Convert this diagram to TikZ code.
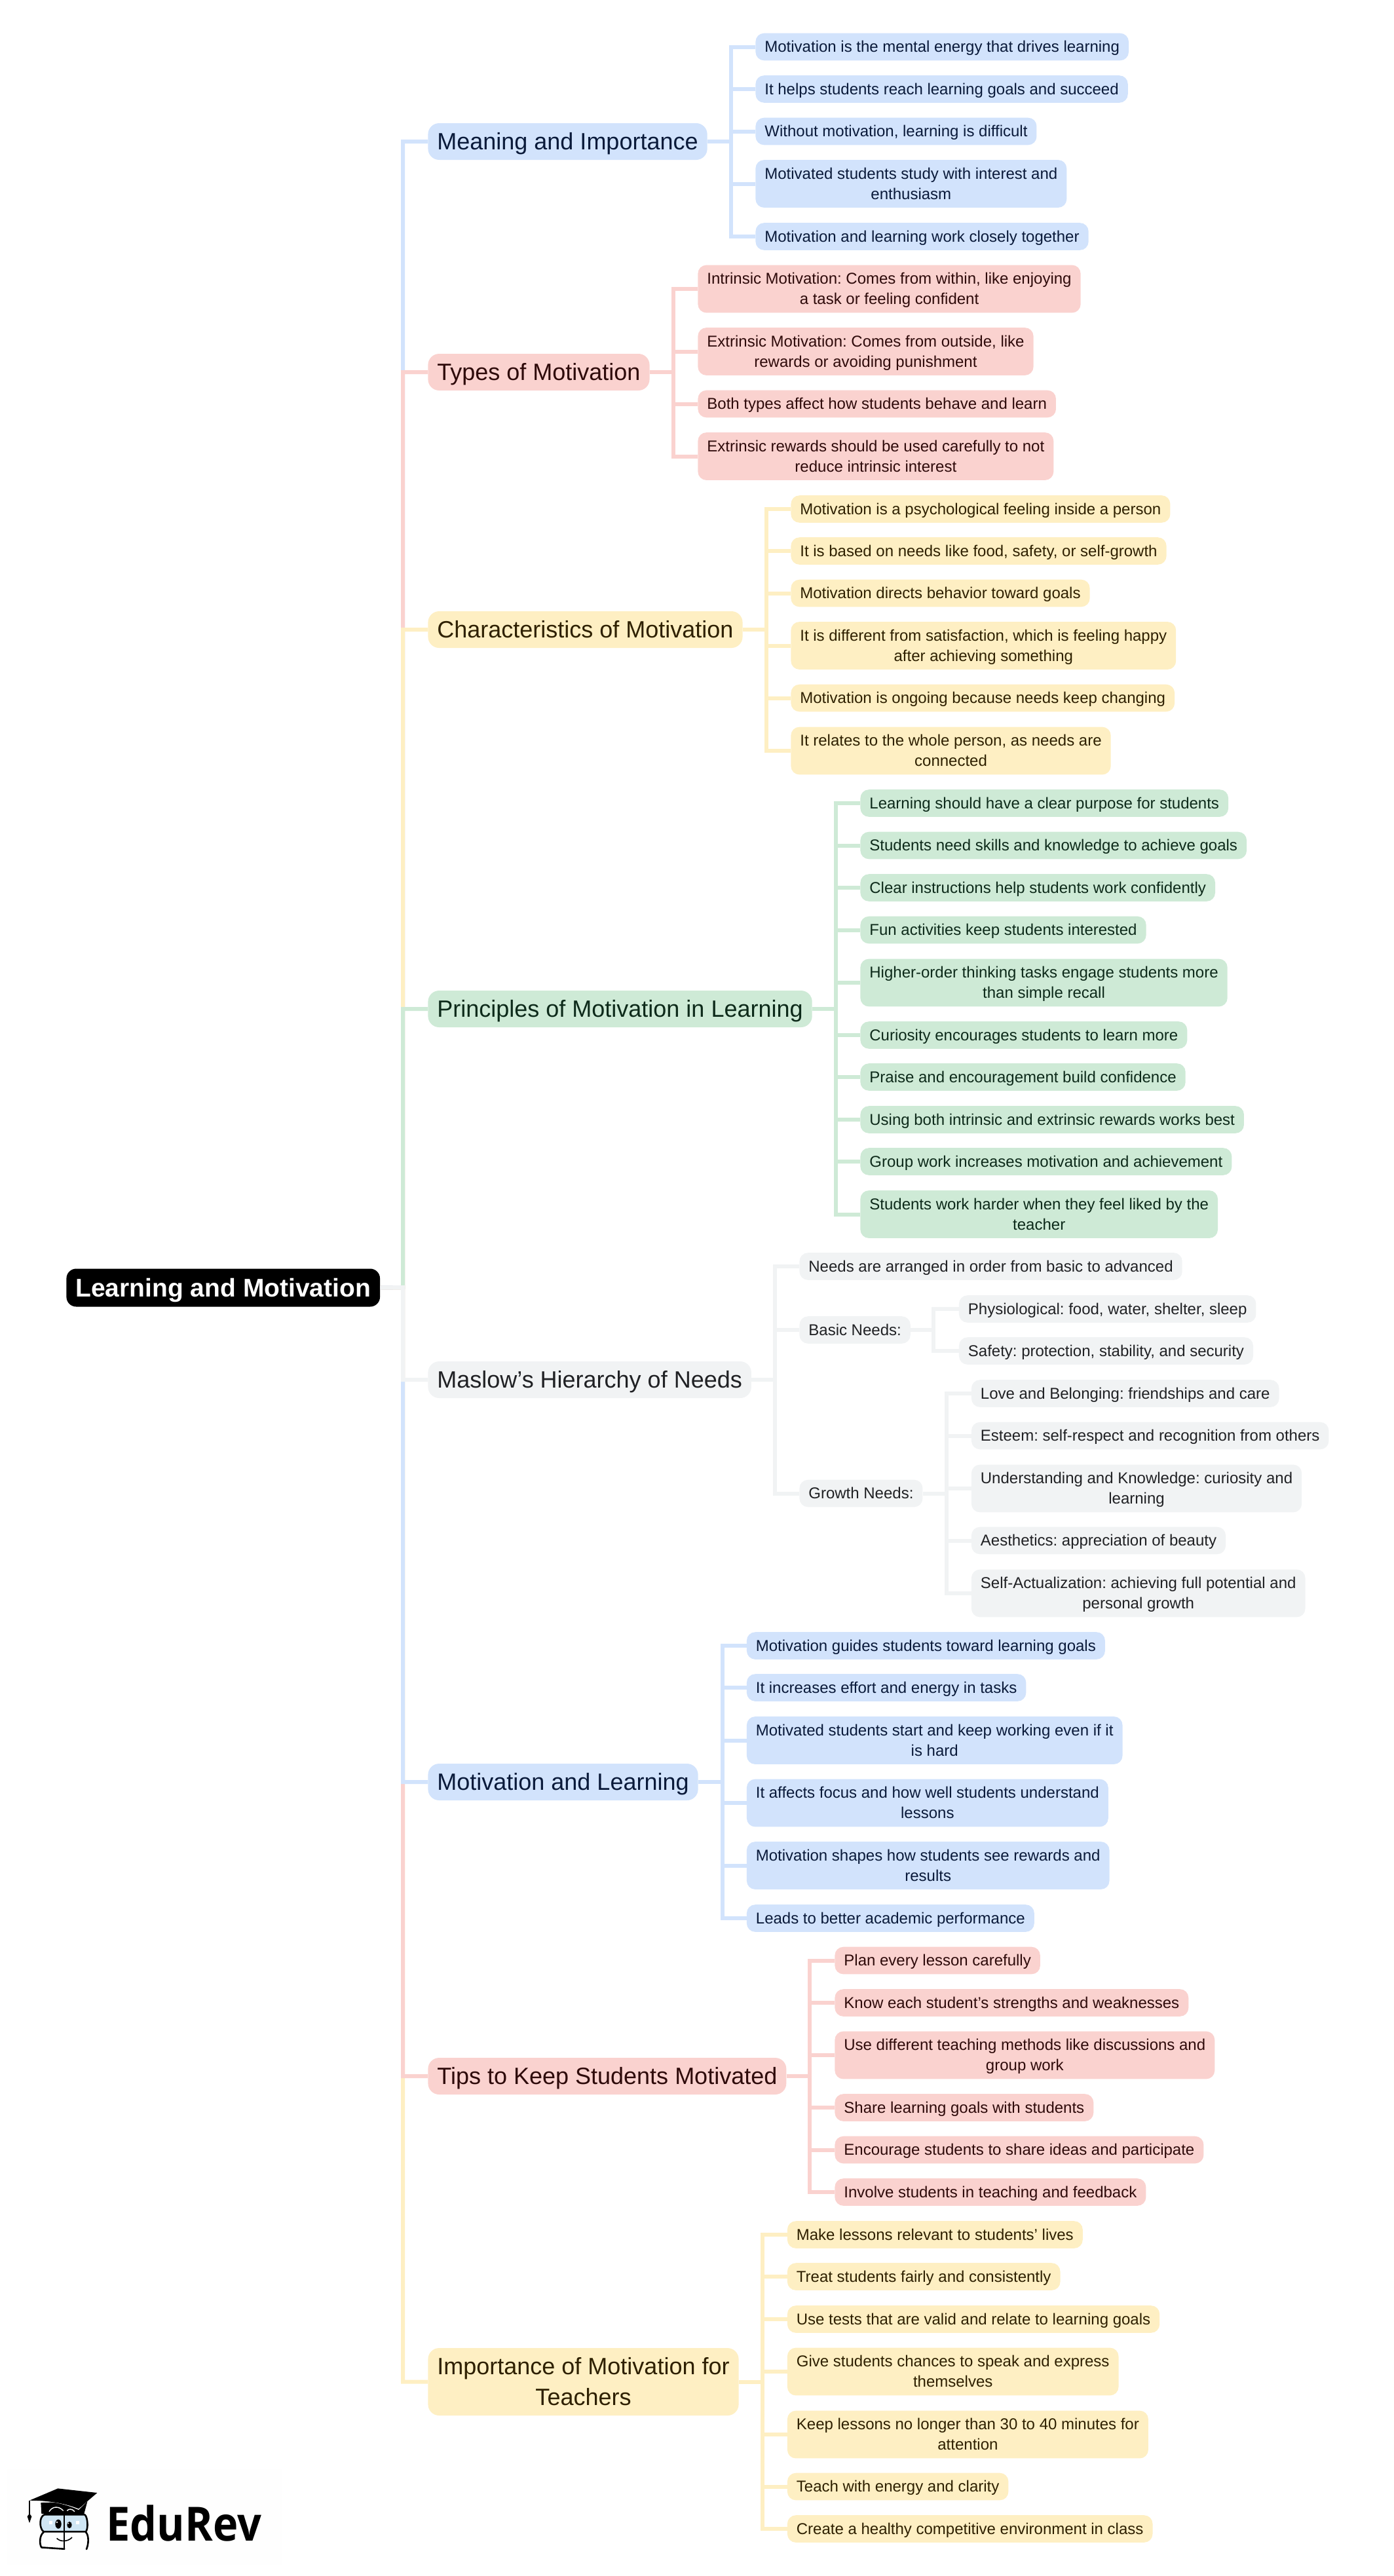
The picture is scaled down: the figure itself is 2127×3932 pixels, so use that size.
\documentclass[tikz,border=0pt]{standalone}
\usepackage{fontspec}
\setmainfont{Liberation Sans}
\newfontfamily\logofont[FakeStretch=0.9]{Open Sans}
\definecolor{blue fill}{HTML}{D2E3FC}
\definecolor{pink fill}{HTML}{FAD2CF}
\definecolor{yellow fill}{HTML}{FEEFC3}
\definecolor{green fill}{HTML}{CEEAD6}
\definecolor{grey fill}{HTML}{F1F3F4}
\definecolor{blue ink}{HTML}{0A1A3A}
\definecolor{pink ink}{HTML}{2E0A0A}
\definecolor{yellow ink}{HTML}{2E2000}
\definecolor{green ink}{HTML}{0D2A1A}
\definecolor{grey ink}{HTML}{202124}
\definecolor{lens}{HTML}{CFE6F4}
\definecolor{logo paper}{HTML}{FEFEFE}
\tikzstyle{leaf}=[anchor=west, inner xsep=7pt, inner ysep=0pt, rounded corners=6.5pt, align=center, text height=14.6pt, text depth=6.2pt, font=\fontsize{12}{15.5}\selectfont]
\tikzstyle{double leaf}=[leaf, text height=30pt, text depth=6.4pt]
\tikzstyle{topic}=[anchor=west, inner xsep=7pt, inner ysep=0pt, rounded corners=8.5pt, align=center, text height=20.3pt, text depth=7.7pt, font=\fontsize{18}{23.5}\selectfont]
\tikzstyle{double topic}=[topic, text height=43.8pt]
\tikzstyle{centre}=[anchor=west, fill=black, text=white, inner xsep=7pt, inner ysep=0pt, rounded corners=7.5pt, text height=21.3pt, text depth=7.7pt, font=\fontsize{19.5}{24}\selectfont\bfseries]
\tikzstyle{blue}=[fill=blue fill, text=blue ink]
\tikzstyle{pink}=[fill=pink fill, text=pink ink]
\tikzstyle{yellow}=[fill=yellow fill, text=yellow ink]
\tikzstyle{green}=[fill=green fill, text=green ink]
\tikzstyle{grey}=[fill=grey fill, text=grey ink]
\tikzstyle{link}=[line width=3pt, miter limit=10]
\tikzstyle{blue link}=[link, draw=blue fill]
\tikzstyle{pink link}=[link, draw=pink fill]
\tikzstyle{yellow link}=[link, draw=yellow fill]
\tikzstyle{green link}=[link, draw=green fill]
\tikzstyle{grey link}=[link, draw=grey fill]
\tikzstyle{logo line}=[line width=1.3pt, line cap=round, line join=round]
\begin{document}
\frenchspacing
\begin{tikzpicture}[x=0.5pt, y=-0.5pt]
      \useasboundingbox (0, 0) rectangle (2127, 3932);
      \coordinate (trunk) at (615, 1965);
      \coordinate (meaning bus) at (1116, 216);
      \coordinate (types bus) at (1028, 568);
      \coordinate (traits bus) at (1170, 961);
      \coordinate (rules bus) at (1275.5, 1540);
      \coordinate (maslow bus) at (1183, 2106);
      \coordinate (basic bus) at (1425, 2030);
      \coordinate (growth bus) at (1445, 2279.5);
      \coordinate (learning bus) at (1102.5, 2720);
      \coordinate (tips bus) at (1236, 3169);
      \coordinate (teachers bus) at (1164, 3635.5);
      \node[centre] (root) at (101, 1965.5) {Learning and Motivation};
      \node[topic, blue] (meaning) at (653, 216) {Meaning and Importance};
      \node[topic, pink] (types) at (653, 568) {Types of Motivation};
      \node[topic, yellow] (traits) at (653, 961) {Characteristics of Motivation};
      \node[topic, green] (rules) at (653, 1540) {Principles of Motivation in Learning};
      \node[topic, grey] (maslow) at (653, 2106) {Maslow’s Hierarchy of Needs};
      \node[topic, blue] (learning) at (653, 2720) {Motivation and Learning};
      \node[topic, pink] (tips) at (653, 3169) {Tips to Keep Students Motivated};
      \node[double topic, yellow] (teachers) at (653, 3635.5) {Importance of Motivation for\\Teachers};

      \node[leaf, blue] (meaning 1) at (1153, 71.5) {Motivation is the mental energy that drives learning};
      \node[leaf, blue] (meaning 2) at (1153, 136) {It helps students reach learning goals and succeed};
      \node[leaf, blue] (meaning 3) at (1153, 200.5) {Without motivation, learning is difficult};
      \node[double leaf, blue] (meaning 4) at (1153, 280.5) {Motivated students study with interest and\\enthusiasm};
      \node[leaf, blue] (meaning 5) at (1153, 361) {Motivation and learning work closely together};

      \node[double leaf, pink] (types 1) at (1065, 441) {Intrinsic Motivation: Comes from within, like enjoying\\a task or feeling confident};
      \node[double leaf, pink] (types 2) at (1065, 536.5) {Extrinsic Motivation: Comes from outside, like\\rewards or avoiding punishment};
      \node[leaf, pink] (types 3) at (1065, 616.5) {Both types affect how students behave and learn};
      \node[double leaf, pink] (types 4) at (1065, 696.5) {Extrinsic rewards should be used carefully to not\\reduce intrinsic interest};

      \node[leaf, yellow] (traits 1) at (1207, 777) {Motivation is a psychological feeling inside a person};
      \node[leaf, yellow] (traits 2) at (1207, 841) {It is based on needs like food, safety, or self-growth};
      \node[leaf, yellow] (traits 3) at (1207, 905.5) {Motivation directs behavior toward goals};
      \node[double leaf, yellow] (traits 4) at (1207, 985.5) {It is different from satisfaction, which is feeling happy\\after achieving something};
      \node[leaf, yellow] (traits 5) at (1207, 1065.5) {Motivation is ongoing because needs keep changing};
      \node[double leaf, yellow] (traits 6) at (1207, 1146) {It relates to the whole person, as needs are\\connected};

      \node[leaf, green] (rules 1) at (1313, 1226) {Learning should have a clear purpose for students};
      \node[leaf, green] (rules 2) at (1313, 1290.5) {Students need skills and knowledge to achieve goals};
      \node[leaf, green] (rules 3) at (1313, 1355) {Clear instructions help students work confidently};
      \node[leaf, green] (rules 4) at (1313, 1419.5) {Fun activities keep students interested};
      \node[double leaf, green] (rules 5) at (1313, 1500) {Higher-order thinking tasks engage students more\\than simple recall};
      \node[leaf, green] (rules 6) at (1313, 1580) {Curiosity encourages students to learn more};
      \node[leaf, green] (rules 7) at (1313, 1644) {Praise and encouragement build confidence};
      \node[leaf, green] (rules 8) at (1313, 1709) {Using both intrinsic and extrinsic rewards works best};
      \node[leaf, green] (rules 9) at (1313, 1773) {Group work increases motivation and achievement};
      \node[double leaf, green] (rules 10) at (1313, 1853.5) {Students work harder when they feel liked by the\\teacher};

      \node[leaf, grey] (needs) at (1220, 1933) {Needs are arranged in order from basic to advanced};
      \node[leaf, grey] (basic) at (1220, 2030) {Basic Needs:};
      \node[leaf, grey] (growth) at (1220, 2279.5) {Growth Needs:};
      \node[leaf, grey] (basic 1) at (1463.5, 1998) {Physiological: food, water, shelter, sleep};
      \node[leaf, grey] (basic 2) at (1463.5, 2062) {Safety: protection, stability, and security};
      \node[leaf, grey] (growth 1) at (1482.5, 2127) {Love and Belonging: friendships and care};
      \node[leaf, grey] (growth 2) at (1482.5, 2191.5) {Esteem: self-respect and recognition from others};
      \node[double leaf, grey] (growth 3) at (1482.5, 2272) {Understanding and Knowledge: curiosity and\\learning};
      \node[leaf, grey] (growth 4) at (1482.5, 2351.5) {Aesthetics: appreciation of beauty};
      \node[double leaf, grey] (growth 5) at (1482.5, 2432) {Self-Actualization: achieving full potential and\\personal growth};

      \node[leaf, blue] (learning 1) at (1139.5, 2512) {Motivation guides students toward learning goals};
      \node[leaf, blue] (learning 2) at (1139.5, 2576) {It increases effort and energy in tasks};
      \node[double leaf, blue] (learning 3) at (1139.5, 2656.5) {Motivated students start and keep working even if it\\is hard};
      \node[double leaf, blue] (learning 4) at (1139.5, 2752) {It affects focus and how well students understand\\lessons};
      \node[double leaf, blue] (learning 5) at (1139.5, 2847.5) {Motivation shapes how students see rewards and\\results};
      \node[leaf, blue] (learning 6) at (1139.5, 2928) {Leads to better academic performance};

      \node[leaf, pink] (tips 1) at (1274, 2992.5) {Plan every lesson carefully};
      \node[leaf, pink] (tips 2) at (1274, 3057) {Know each student’s strengths and weaknesses};
      \node[double leaf, pink] (tips 3) at (1274, 3137) {Use different teaching methods like discussions and\\group work};
      \node[leaf, pink] (tips 4) at (1274, 3217) {Share learning goals with students};
      \node[leaf, pink] (tips 5) at (1274, 3281.5) {Encourage students to share ideas and participate};
      \node[leaf, pink] (tips 6) at (1274, 3346) {Involve students in teaching and feedback};

      \node[leaf, yellow] (teachers 1) at (1201.5, 3411) {Make lessons relevant to students’ lives};
      \node[leaf, yellow] (teachers 2) at (1201.5, 3475) {Treat students fairly and consistently};
      \node[leaf, yellow] (teachers 3) at (1201.5, 3540) {Use tests that are valid and relate to learning goals};
      \node[double leaf, yellow] (teachers 4) at (1201.5, 3620) {Give students chances to speak and express\\themselves};
      \node[double leaf, yellow] (teachers 5) at (1201.5, 3716) {Keep lessons no longer than 30 to 40 minutes for\\attention};
      \node[leaf, yellow] (teachers 6) at (1201.5, 3795.5) {Teach with energy and clarity};
      \node[leaf, yellow] (teachers 7) at (1201.5, 3860) {Create a healthy competitive environment in class};

      \draw[blue link] (root.east) to (trunk) |- (meaning.west);
      \draw[pink link] (root.east) to (trunk) |- (types.west);
      \draw[yellow link] (root.east) to (trunk) |- (traits.west);
      \draw[green link] (root.east) to (trunk) |- (rules.west);
      \draw[yellow link] (root.east) to (trunk) |- (teachers.west);
      \draw[pink link] (root.east) to (trunk) |- (tips.west);
      \draw[blue link] (root.east) to (trunk) |- (learning.west);
      \draw[grey link] (root.east) to (trunk) |- (maslow.west);

      \draw[blue link] (meaning.east) to (meaning bus) |- (meaning 1.west);
      \draw[blue link] (meaning.east) to (meaning bus) |- (meaning 2.west);
      \draw[blue link] (meaning.east) to (meaning bus) |- (meaning 3.west);
      \draw[blue link] (meaning.east) to (meaning bus) |- (meaning 4.west);
      \draw[blue link] (meaning.east) to (meaning bus) |- (meaning 5.west);

      \draw[pink link] (types.east) to (types bus) |- (types 1.west);
      \draw[pink link] (types.east) to (types bus) |- (types 2.west);
      \draw[pink link] (types.east) to (types bus) |- (types 3.west);
      \draw[pink link] (types.east) to (types bus) |- (types 4.west);

      \draw[yellow link] (traits.east) to (traits bus) |- (traits 1.west);
      \draw[yellow link] (traits.east) to (traits bus) |- (traits 2.west);
      \draw[yellow link] (traits.east) to (traits bus) |- (traits 3.west);
      \draw[yellow link] (traits.east) to (traits bus) |- (traits 4.west);
      \draw[yellow link] (traits.east) to (traits bus) |- (traits 5.west);
      \draw[yellow link] (traits.east) to (traits bus) |- (traits 6.west);

      \draw[green link] (rules.east) to (rules bus) |- (rules 1.west);
      \draw[green link] (rules.east) to (rules bus) |- (rules 2.west);
      \draw[green link] (rules.east) to (rules bus) |- (rules 3.west);
      \draw[green link] (rules.east) to (rules bus) |- (rules 4.west);
      \draw[green link] (rules.east) to (rules bus) |- (rules 5.west);
      \draw[green link] (rules.east) to (rules bus) |- (rules 6.west);
      \draw[green link] (rules.east) to (rules bus) |- (rules 7.west);
      \draw[green link] (rules.east) to (rules bus) |- (rules 8.west);
      \draw[green link] (rules.east) to (rules bus) |- (rules 9.west);
      \draw[green link] (rules.east) to (rules bus) |- (rules 10.west);

      \draw[grey link] (maslow.east) to (maslow bus) |- (needs.west);
      \draw[grey link] (maslow.east) to (maslow bus) |- (basic.west);
      \draw[grey link] (maslow.east) to (maslow bus) |- (growth.west);
      \draw[grey link] (basic.east) to (basic bus) |- (basic 1.west);
      \draw[grey link] (basic.east) to (basic bus) |- (basic 2.west);
      \draw[grey link] (growth.east) to (growth bus) |- (growth 1.west);
      \draw[grey link] (growth.east) to (growth bus) |- (growth 2.west);
      \draw[grey link] (growth.east) to (growth bus) |- (growth 3.west);
      \draw[grey link] (growth.east) to (growth bus) |- (growth 4.west);
      \draw[grey link] (growth.east) to (growth bus) |- (growth 5.west);

      \draw[blue link] (learning.east) to (learning bus) |- (learning 1.west);
      \draw[blue link] (learning.east) to (learning bus) |- (learning 2.west);
      \draw[blue link] (learning.east) to (learning bus) |- (learning 3.west);
      \draw[blue link] (learning.east) to (learning bus) |- (learning 4.west);
      \draw[blue link] (learning.east) to (learning bus) |- (learning 5.west);
      \draw[blue link] (learning.east) to (learning bus) |- (learning 6.west);

      \draw[pink link] (tips.east) to (tips bus) |- (tips 1.west);
      \draw[pink link] (tips.east) to (tips bus) |- (tips 2.west);
      \draw[pink link] (tips.east) to (tips bus) |- (tips 3.west);
      \draw[pink link] (tips.east) to (tips bus) |- (tips 4.west);
      \draw[pink link] (tips.east) to (tips bus) |- (tips 5.west);
      \draw[pink link] (tips.east) to (tips bus) |- (tips 6.west);

      \draw[yellow link] (teachers.east) to (teachers bus) |- (teachers 1.west);
      \draw[yellow link] (teachers.east) to (teachers bus) |- (teachers 2.west);
      \draw[yellow link] (teachers.east) to (teachers bus) |- (teachers 3.west);
      \draw[yellow link] (teachers.east) to (teachers bus) |- (teachers 4.west);
      \draw[yellow link] (teachers.east) to (teachers bus) |- (teachers 5.west);
      \draw[yellow link] (teachers.east) to (teachers bus) |- (teachers 6.west);
      \draw[yellow link] (teachers.east) to (teachers bus) |- (teachers 7.west);

      % logo
      \fill[logo paper] (10, 3768) rectangle (431, 3915);
      \node[anchor=base west, inner sep=0pt, font=\fontsize{36}{36}\logofont\bfseries] (brand) at (162, 3878) {EduRev};
      \begin{scope}[shift={(30, 3785)}, x=0.1667pt, y=-0.1667pt]
        \fill (97, 105) -- (100, 156) -- (295, 156) -- (310, 100) -- cycle;
        \draw[white, line width=0.7pt] (135, 146) .. controls (150, 120) and (180, 120) .. (200, 142);
        \draw[white, line width=0.7pt] (217, 142) .. controls (225, 132) and (240, 132) .. (252, 146);
        \fill[white] (97, 98) .. controls (160, 100) and (220, 115) .. (270, 138) -- (318, 90) -- (280, 125) .. controls (220, 100) and (160, 90) .. (97, 90) -- cycle;
        \fill (45, 95) -- (175, 40) -- (355, 60) -- (270, 133) .. controls (200, 105) and (120, 95) .. (45, 95) -- cycle;
        \draw[line width=0.6pt] (45, 95) -- (45, 160);
        \fill (35, 168) -- (45, 155) -- (55, 168) -- (45, 198) -- cycle;
        \draw[logo line, fill=lens] (113, 160) -- (298, 160) .. controls (312, 170) and (315, 225) .. (303, 238) -- (110, 238) .. controls (90, 225) and (88, 170) .. (113, 160) -- cycle;
        \draw[logo line] (110, 240) .. controls (90, 255) and (90, 295) .. (100, 310) -- (205, 317);
        \draw[logo line] (303, 240) .. controls (318, 255) and (316, 295) .. (306, 318);
        \draw[line width=1pt] (205, 155) -- (205, 322);
        \fill (177, 203) ellipse [x radius=14, y radius=21];
        \fill (228, 207) ellipse [x radius=11, y radius=15];
        \fill[white] (171, 195) circle [radius=4];
        \fill[white] (223, 200) circle [radius=3];
        \fill[white] (135, 190) rectangle (150, 205);
        \fill[white] (258, 190) rectangle (273, 205);
        \draw[line width=0.8pt] (170, 268) .. controls (185, 285) and (220, 285) .. (240, 264);
      \end{scope}
\end{tikzpicture}
\end{document}
